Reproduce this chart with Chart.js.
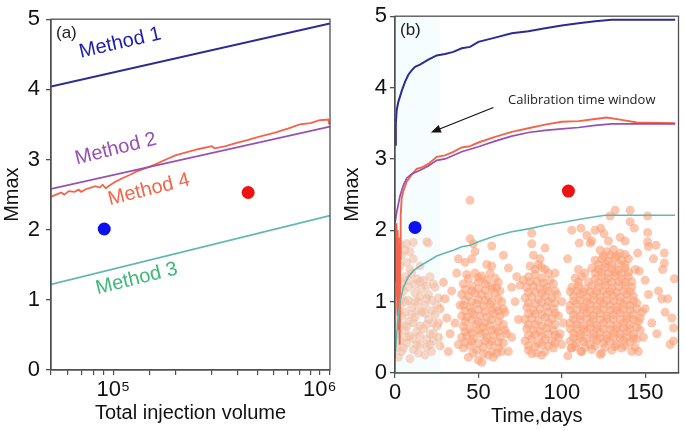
<!DOCTYPE html>
<html>
<head>
<meta charset="utf-8">
<script src="https://cdn.jsdelivr.net/npm/chart.js@4"></script>
<style>
  html, body { margin:0; padding:0; background:#fff; }
  #wrap { position:relative; width:685px; height:431px; }
  .panel { position:absolute; top:0; height:431px; }
  #pa { left:0; width:340px; }
  #pb { left:340px; width:345px; }
</style>
</head>
<body>
<div id="wrap">
  <div class="panel" id="pa"><canvas id="chartA"></canvas></div>
  <div class="panel" id="pb"><canvas id="chartB"></canvas></div>
</div>
<script>
// ---- panel (a): Mmax vs total injection volume ----
const volM1 = [[5e4, 4.04], [1.12e6, 4.94]];
const volM2 = [[5e4, 2.58], [1.12e6, 3.47]];
const volM3 = [[5e4, 1.22], [1.12e6, 2.2]];
const volM4 = [[5e4,2.47],[5.3e4,2.5],[5.6e4,2.53],[5.8e4,2.5],[6.1e4,2.55],[6.5e4,2.54],[6.8e4,2.57],
  [7e4,2.54],[7.4e4,2.58],[7.8e4,2.6],[8.2e4,2.62],[8.6e4,2.6],[8.9e4,2.64],[9.2e4,2.59],[9.6e4,2.63],
  [1.02e5,2.68],[1.1e5,2.73],[1.2e5,2.78],[1.3e5,2.83],[1.45e5,2.88],[1.6e5,2.93],[1.8e5,3.0],[2e5,3.06],
  [2.3e5,3.11],[2.6e5,3.15],[3e5,3.19],[3.1e5,3.16],[3.5e5,3.19],[4e5,3.24],[4.5e5,3.28],[5e5,3.32],
  [6e5,3.38],[7e5,3.44],[8e5,3.5],[9e5,3.52],[1e6,3.56],[1.1e6,3.57],[1.11e6,3.5]];
const volBlue = [[9.05e4, 2.01]];
const volRed  = [[4.5e5, 2.53]];

// ---- panel (b): Mmax vs time ----
const timeM1 = [[0,3.2],[0.5,3.5],[1,3.68],[2,3.8],[4,3.95],[6,4.08],[8,4.18],[10,4.24],[12,4.29],[15,4.32],
  [20,4.39],[25,4.45],[30,4.47],[35,4.5],[40,4.55],[45,4.57],[50,4.64],[60,4.7],[70,4.76],[80,4.79],
  [90,4.83],[100,4.87],[110,4.9],[120,4.93],[130,4.95],[168,4.95]];
const timeM2 = [[0,2.1],[1,2.25],[3,2.48],[5,2.63],[7,2.73],[10,2.79],[15,2.84],[20,2.9],[25,2.98],[30,3.0],
  [40,3.1],[50,3.17],[60,3.25],[70,3.32],[80,3.37],[90,3.4],[100,3.42],[110,3.44],[120,3.47],[130,3.49],[168,3.49]];
const timeM3 = [[0,0.2],[1,0.55],[2,0.8],[3,1.0],[5,1.2],[8,1.35],[11,1.43],[15,1.5],[20,1.57],[25,1.64],
  [30,1.68],[35,1.72],[40,1.77],[45,1.79],[50,1.84],[60,1.92],[70,1.98],[80,2.02],[90,2.07],[100,2.11],
  [110,2.15],[120,2.19],[126,2.21],[168,2.21]];
const timeM4 = [[0.3,1.9],[0.6,1.3],[0.9,2.1],[1.2,1.1],[1.5,2.0],[1.7,0.8],[2.0,1.9],[2.2,0.6],[2.5,1.8],
  [2.8,0.4],[3.1,1.6],[3.4,2.2],[4,2.45],[5,2.55],[7,2.68],[10,2.78],[13,2.86],[16,2.88],[20,2.93],[25,3.03],
  [30,3.05],[35,3.1],[40,3.16],[45,3.18],[50,3.23],[60,3.31],[70,3.38],[80,3.43],[90,3.48],[100,3.52],
  [110,3.53],[120,3.56],[127,3.58],[135,3.55],[145,3.51],[168,3.5]];
const timeBlue = [[12, 2.04]];
const timeRed  = [[104, 2.55]];

// observed events, by time cluster
const eventsEarly = [[1,0.35],[4,0.3],[7,0.42],[11,0.33],[15,0.4],[19,0.36],[23,0.45],[26,0.5],
  [2,0.55],[6,0.6],[9,0.52],[13,0.58],[17,0.62],[21,0.55],[25,0.65],
  [1,0.75],[4,0.8],[8,0.72],[12,0.78],[16,0.85],[20,0.75],[24,0.82],[27,0.9],
  [3,0.95],[6,1.0],[10,0.92],[14,1.0],[18,0.95],[22,1.02],[26,1.05],
  [1,1.1],[5,1.15],[8,1.2],[12,1.12],[16,1.18],[20,1.1],[23,1.25],
  [2,1.3],[6,1.35],[10,1.4],[13,1.32],[17,1.3],[21,1.35],
  [3,1.5],[7,1.55],[11,1.6],[15,1.5],[9,1.45],[4,1.65],
  [3,1.8],[7,1.81],[11,1.83],[19,1.84],[20,1.82],[9,1.7],[6,1.72],[2,0.22],[9,0.2],[14,0.28],
  [24,1.2],[25,0.95],[26,0.7],[27,0.38],[18,0.25],[22,0.3],
  [3,0.45],[7,0.5],[11,0.48],[15,0.52],[19,0.47],[23,0.55],
  [3,0.68],[7,0.65],[11,0.7],[15,0.66],[19,0.68],[23,0.7],
  [2,0.88],[6,0.85],[10,0.82],[14,0.88],[18,0.84],[22,0.87],
  [4,1.05],[8,1.02],[12,1.0],[15,1.07],[19,1.04],
  [4,1.25],[8,1.3],[12,1.24],[15,1.28],[19,1.22],[5,0.35],[13,0.4],[21,0.4]];
const eventsMid = [[29,1.27],[30,1.04],[31,0.77],[33,0.55],[34,1.15],[36,0.7],[37,1.4],[38,0.4],[39,0.95],[32,0.3],
  [44,0.22],[50,0.18],[56,0.25],[61,0.28],
  [41,0.35],[45,0.38],[49,0.32],[53,0.36],[57,0.4],[62,0.35],[65,0.42],
  [40,0.5],[43,0.52],[47,0.48],[51,0.55],[55,0.5],[59,0.53],[63,0.5],[67,0.55],
  [41,0.65],[45,0.62],[49,0.68],[53,0.64],[57,0.67],[61,0.62],[65,0.68],
  [40,0.8],[43,0.78],[47,0.82],[51,0.8],[55,0.78],[59,0.83],[63,0.8],[66,0.85],
  [41,0.95],[45,0.92],[49,0.97],[53,0.94],[57,0.96],[61,0.92],[64,1.0],
  [40,1.1],[44,1.08],[48,1.12],[52,1.1],[56,1.07],[60,1.12],[63,1.15],
  [41,1.25],[46,1.22],[50,1.28],[54,1.25],[58,1.22],[62,1.27],
  [43,1.38],[48,1.4],[52,1.36],[57,1.4],
  [45,2.42],[45,1.88],[46,1.6],[47,1.81],[48,1.7],[55,1.52],[58,1.78],[58,1.5],[65,1.65],[68,1.47],
  [70,1.2],[72,1.0],[73,1.35],[74,0.75],[75,1.23],[70,0.5],[68,0.3],[64,0.3],[58,0.3],[52,0.15],[38,1.6],[42,1.55],
  [42,0.43],[46,0.44],[50,0.42],[54,0.45],[58,0.44],[62,0.43],
  [42,0.58],[46,0.56],[50,0.6],[54,0.57],[58,0.6],[62,0.58],[66,0.6],
  [42,0.72],[46,0.74],[50,0.72],[54,0.7],[58,0.75],[62,0.72],
  [42,0.87],[46,0.86],[50,0.89],[54,0.86],[58,0.88],[62,0.87],[65,0.9],
  [42,1.02],[46,1.0],[50,1.03],[54,1.02],[58,1.0],[62,1.04],
  [42,1.17],[46,1.15],[50,1.18],[54,1.16],[58,1.18],[61,1.2],
  [44,1.32],[50,1.34],[55,1.3],[60,1.33],[47,0.28],[53,0.27],[59,0.22]];
const eventsLate = [[80,0.32],[85,0.28],[90,0.3],[95,0.35],
  [78,0.45],[82,0.48],[86,0.42],[90,0.47],[94,0.45],[98,0.5],
  [79,0.62],[83,0.6],[87,0.58],[91,0.63],[95,0.6],
  [78,0.75],[82,0.77],[86,0.73],[90,0.78],[94,0.76],[98,0.8],
  [79,0.92],[83,0.88],[87,0.9],[91,0.93],[95,0.9],
  [78,1.05],[82,1.07],[86,1.03],[90,1.08],[94,1.05],[97,1.1],
  [79,1.2],[83,1.22],[87,1.18],[91,1.2],[95,1.25],
  [80,1.35],[84,1.38],[88,1.33],[92,1.4],
  [81,1.5],[86,1.52],[83,1.65],[88,1.48],
  [82,1.96],[82,1.81],[87,1.6],[90,1.75],[96,1.4],[100,1.0],[101,0.7],[99,0.55],[88,0.25],[82,0.27],
  [77,1.3],[103.5,1.6],[103.6,0.24],[100,0.4],
  [80,0.38],[84,0.37],[88,0.4],[92,0.38],[96,0.42],
  [80,0.53],[84,0.54],[88,0.52],[92,0.55],[96,0.53],
  [80,0.68],[84,0.68],[88,0.66],[92,0.7],[96,0.68],
  [80,0.83],[84,0.83],[88,0.82],[92,0.85],[96,0.84],
  [80,0.98],[84,0.97],[88,0.99],[92,1.0],[96,0.98],
  [80,1.13],[84,1.14],[88,1.12],[92,1.15],[96,1.15],
  [81,1.28],[85,1.28],[89,1.26],[93,1.3],[84,1.45],[90,1.45]];
const eventsLast = [[106,0.35],[112,0.3],[118,0.33],[124,0.28],[130,0.32],[136,0.35],[142,0.3],
  [105,0.45],[109,0.42],[113,0.44],[117,0.4],[121,0.46],[125,0.42],[129,0.44],[133,0.4],[137,0.46],[141,0.43],[145,0.48],
  [107,0.56],[111,0.54],[115,0.58],[119,0.55],[123,0.57],[127,0.53],[131,0.56],[135,0.55],[139,0.58],[143,0.54],[147,0.6],
  [105,0.7],[109,0.68],[113,0.66],[117,0.7],[121,0.67],[125,0.7],[129,0.68],[133,0.66],[137,0.7],[141,0.68],[146,0.72],
  [107,0.82],[111,0.8],[115,0.84],[119,0.81],[123,0.83],[127,0.8],[131,0.82],[135,0.84],[139,0.8],[143,0.82],[148,0.85],
  [105,0.95],[109,0.97],[113,0.93],[117,0.96],[121,0.94],[125,0.97],[129,0.95],[133,0.93],[137,0.96],[141,0.95],[145,0.98],
  [107,1.08],[111,1.1],[115,1.06],[119,1.09],[123,1.07],[127,1.1],[131,1.08],[135,1.06],[139,1.1],[143,1.08],
  [106,1.2],[110,1.22],[114,1.18],[118,1.22],[122,1.2],[126,1.23],[130,1.19],[134,1.21],[138,1.22],[142,1.2],
  [108,1.33],[112,1.35],[120,1.32],[124,1.35],[128,1.33],[132,1.36],[136,1.32],[140,1.35],
  [110,1.45],[118,1.47],[122,1.45],[126,1.48],[130,1.46],[134,1.44],[138,1.47],[144,1.45],
  [120,1.58],[124,1.6],[128,1.57],[132,1.62],[136,1.58],[140,1.6],
  [123,1.72],[127,1.7],[131,1.73],[135,1.68],
  [132,2.28],[141,2.28],[151.5,2.2],[141,2.12],[129,2.2],[123.4,2.03],[125.4,1.95],[111.5,2.03],[110.5,1.82],
  [117,1.82],[115,1.93],[106,2.0],[143.5,2.03],[151.5,1.97],[151.5,1.84],[152,1.77],[156.5,1.79],[161.5,1.68],
  [161.5,1.54],[160.5,1.45],[167.5,1.32],[163.5,1.04],[160,1.04],[166,0.77],[167,0.63],[167,0.45],[158,1.15],
  [146,0.3],[123,0.26],[111.5,0.3],[105.5,0.35],[145.5,1.68],[146.5,1.43],[150,1.3],[152,1.1],[150,0.9],
  [154,0.7],[149,0.5],[157,0.55],[162,0.85],[165,0.4],[155,1.6],[118,1.85],[120,2.0],[135,1.9],[138,1.85],[128,1.85],
  [108,0.37],[114,0.36],[120,0.38],[126,0.36],[132,0.37],[138,0.38],[144,0.36],
  [107,0.49],[111,0.5],[115,0.48],[119,0.5],[123,0.49],[127,0.48],[131,0.5],[135,0.49],[139,0.5],[143,0.49],
  [105,0.62],[109,0.62],[113,0.61],[117,0.63],[121,0.62],[125,0.62],[129,0.61],[133,0.62],[137,0.63],[141,0.62],[145,0.64],
  [107,0.75],[111,0.75],[115,0.76],[119,0.75],[123,0.75],[127,0.76],[131,0.75],[135,0.75],[139,0.76],[143,0.75],[147,0.77],
  [105,0.88],[109,0.88],[113,0.89],[117,0.88],[121,0.88],[125,0.89],[129,0.88],[133,0.88],[137,0.89],[141,0.88],[145,0.9],
  [107,1.01],[111,1.02],[115,1.0],[119,1.02],[123,1.01],[127,1.02],[131,1.01],[135,1.0],[139,1.02],[143,1.01],
  [105,1.14],[109,1.15],[113,1.13],[117,1.14],[121,1.14],[125,1.15],[129,1.14],[133,1.13],[137,1.15],[141,1.14],
  [110,1.27],[116,1.28],[122,1.27],[126,1.28],[130,1.27],[134,1.28],[138,1.27],[142,1.28],
  [114,1.4],[120,1.4],[124,1.41],[128,1.4],[132,1.41],[136,1.4],[140,1.41],
  [122,1.52],[126,1.53],[130,1.52],[134,1.53],[138,1.52],
  [125,1.64],[129,1.65],[133,1.64],[138,1.66]];

const calibWindow = [0, 27];   // days

const C1 = "#2b2b92", C2 = "#9650b4", C3 = "#62b8b0", C4 = "#f4644a";
const pts = a => a.map(([x, y]) => ({ x, y }));
const FONT = "'Liberation Sans', Arial, sans-serif";

function lineSet(data, color, w) {
  return { type:"line", data: pts(data), borderColor: color, borderWidth: w,
           pointRadius: 0, fill: false, tension: 0, order: 2 };
}
function dotSet(data, color) {
  return { type:"scatter", data: pts(data), backgroundColor: color, borderWidth: 0,
           pointRadius: 6.5, order: 0 };
}

// box around plot area + panel letter
const frame = {
  id: "frame",
  afterDraw(chart, args, opts) {
    const { ctx, chartArea: a } = chart;
    ctx.save();
    ctx.strokeStyle = "#505050";
    ctx.lineWidth = 1.3;
    ctx.strokeRect(a.left, a.top, a.right - a.left, a.bottom - a.top);
    ctx.fillStyle = "#222";
    ctx.font = "17px " + FONT;
    ctx.textBaseline = "middle";
    ctx.fillText(opts.tag, a.left + 5, a.top + 14);
    ctx.restore();
  }
};

// rotated method labels for panel (a), anchored in data space
const methodLabels = [
  { text:"Method 1", x:1.08e5, y:4.66, color:"#1c1cae", rot:-13 },
  { text:"Method 2", x:1.03e5, y:3.15, color:"#9650b4", rot:-14 },
  { text:"Method 4", x:1.49e5, y:2.57, color:"#f4644a", rot:-14 },
  { text:"Method 3", x:1.3e5, y:1.3, color:"#3cb878", rot:-14 },
];
const labelPlugin = {
  id: "labels",
  afterDatasetsDraw(chart) {
    const { ctx, scales: { x, y } } = chart;
    ctx.save();
    ctx.font = "20px " + FONT;
    ctx.textAlign = "center";
    ctx.textBaseline = "middle";
    methodLabels.forEach(l => {
      ctx.save();
      ctx.translate(x.getPixelForValue(l.x), y.getPixelForValue(l.y));
      ctx.rotate(l.rot * Math.PI / 180);
      ctx.fillStyle = l.color;
      ctx.fillText(l.text, 0, 0);
      ctx.restore();
    });
    ctx.restore();
  }
};

// calibration window shading (over the events) + arrow note
const windowPlugin = {
  id: "calib",
  afterDatasetDraw(chart, args) {
    if (args.meta.label !== "eventsEarly") return;   // last event set drawn
    const { ctx, chartArea: a, scales: { x } } = chart;
    const x0 = x.getPixelForValue(calibWindow[0]), x1 = x.getPixelForValue(calibWindow[1]);
    ctx.save();
    ctx.fillStyle = "rgba(228,248,255,0.32)";
    ctx.fillRect(x0, a.top, x1 - x0, a.bottom - a.top);
    ctx.restore();
  },
  afterDatasetsDraw(chart) {
    const { ctx, scales: { x, y } } = chart;
    ctx.save();
    ctx.fillStyle = "#222";
    ctx.font = "13px 'Open Sans', " + FONT;
    ctx.textAlign = "center";
    ctx.textBaseline = "middle";
    ctx.fillText("Calibration time window", x.getPixelForValue(112), y.getPixelForValue(3.82));
    const sx = x.getPixelForValue(59), sy = y.getPixelForValue(3.72);
    const ex = x.getPixelForValue(21.5), ey = y.getPixelForValue(3.37);
    const ang = Math.atan2(ey - sy, ex - sx);
    ctx.strokeStyle = "#111";
    ctx.lineWidth = 1.2;
    ctx.beginPath();
    ctx.moveTo(sx, sy);
    ctx.lineTo(ex - 6 * Math.cos(ang), ey - 6 * Math.sin(ang));
    ctx.stroke();
    ctx.beginPath();
    ctx.moveTo(ex, ey);
    ctx.lineTo(ex - 10 * Math.cos(ang) + 4 * Math.sin(ang), ey - 10 * Math.sin(ang) - 4 * Math.cos(ang));
    ctx.lineTo(ex - 10 * Math.cos(ang) - 4 * Math.sin(ang), ey - 10 * Math.sin(ang) + 4 * Math.cos(ang));
    ctx.closePath();
    ctx.fillStyle = "#111";
    ctx.fill();
    ctx.restore();
  }
};

function yAxis(width, pad) {
  return {
    min: 0, max: 5,
    afterFit: s => { s.width = width; },
    ticks: { stepSize: 1, color: "#111", padding: pad, font: { size: 22, family: FONT } },
    grid: { drawOnChartArea: false, tickLength: 5, color: "#505050", lineWidth: 1.3 },
    border: { color: "#505050", width: 1.3 },
    title: { display: true, text: "Mmax", color: "#111", padding: { top: 0, bottom: 0 },
             font: { size: 20, family: FONT } },
  };
}

const common = {
  responsive: true,
  maintainAspectRatio: false,
  animation: false,
  plugins: { legend: { display: false }, tooltip: { enabled: false } },
};

new Chart(document.getElementById("chartA"), {
  data: {
    datasets: [
      lineSet(volM1, C1, 2),
      lineSet(volM2, C2, 1.7),
      lineSet(volM3, C3, 1.6),
      lineSet(volM4, C4, 1.8),
      dotSet(volBlue, "#0a10f0"),
      dotSet(volRed, "#f01212"),
    ],
  },
  options: {
    ...common,
    layout: { padding: { left: 0, right: 10, top: 7, bottom: 0 } },
    plugins: { ...common.plugins, frame: { tag: "(a)" } },
    scales: {
      x: {
        type: "logarithmic", min: 5e4, max: 1.12e6,
        afterFit: s => { s.height = 61; },
        ticks: {
          autoSkip: false, maxRotation: 0, includeBounds: false, color: "#111", padding: 2,
          font: { size: 22, family: FONT },
          callback: v => v === 1e5 ? "10\u2075" : v === 1e6 ? "10\u2076" : "",
        },
        grid: { drawOnChartArea: false, tickLength: 5, color: "#505050", lineWidth: 1.2 },
        border: { color: "#505050", width: 1.3 },
        title: { display: true, text: "Total injection volume", color: "#111",
                 padding: { top: 0, bottom: 6 }, font: { size: 20, family: FONT } },
      },
      y: yAxis(51, 6),
    },
  },
  plugins: [frame, labelPlugin],
});

const evStyle = { type:"scatter", backgroundColor: "rgba(249,158,118,0.58)", borderWidth: 0,
                  pointRadius: 4.5, order: 5 };

new Chart(document.getElementById("chartB"), {
  data: {
    datasets: [
      { ...evStyle, label: "eventsEarly", data: pts(eventsEarly) },
      { ...evStyle, label: "eventsMid", data: pts(eventsMid) },
      { ...evStyle, label: "eventsLate", data: pts(eventsLate) },
      { ...evStyle, label: "eventsLast", data: pts(eventsLast) },
      lineSet(timeM1, C1, 2),
      lineSet(timeM2, C2, 1.7),
      lineSet(timeM3, C3, 1.6),
      lineSet(timeM4, C4, 1.9),
      dotSet(timeBlue, "#0a10f0"),
      dotSet(timeRed, "#f01212"),
    ],
  },
  options: {
    ...common,
    layout: { padding: { left: 0, right: 5, top: 7, bottom: 0 } },
    plugins: { ...common.plugins, frame: { tag: "(b)" } },
    scales: {
      x: {
        type: "linear", min: 0, max: 170,
        afterFit: s => { s.height = 58; },
        ticks: { stepSize: 50, includeBounds: false, maxRotation: 0, color: "#111", padding: 2,
                 font: { size: 22, family: FONT } },
        grid: { drawOnChartArea: false, tickLength: 5, color: "#505050", lineWidth: 1.2 },
        border: { color: "#505050", width: 1.3 },
        title: { display: true, text: "Time,days", color: "#111",
                 padding: { top: 0, bottom: 3 }, font: { size: 20, family: FONT } },
      },
      y: yAxis(55, 3),
    },
  },
  plugins: [windowPlugin, frame],
});
</script>
</body>
</html>
